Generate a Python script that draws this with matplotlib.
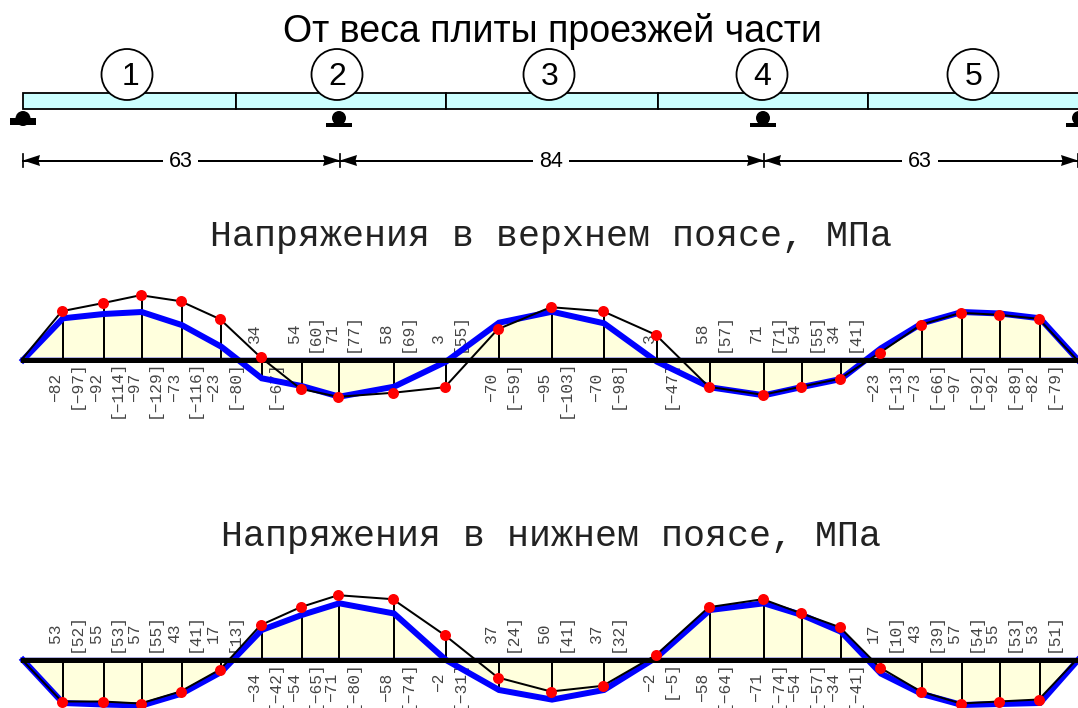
import matplotlib
matplotlib.use("Agg")
import matplotlib.pyplot as plt
from matplotlib.patches import Rectangle, Circle, Polygon

W, H = 1078, 708

# bridge layout
spans = [63, 84, 63]
span_x = [23, 340, 764, 1078]
beam_div = [23, 236, 446, 658, 868, 1090]
circle_x = [127, 337, 549, 762, 973]
support_x = [23, 339, 763, 1079]

# sections along the beam
st = [23, 63, 103.7, 141.7, 181.7, 221.3, 261.7, 301.7, 339.3, 394, 446, 499, 552, 604,
      657, 710, 764, 802, 841, 881, 922, 962, 1000, 1040, 1078]

# top chord: ordinates on the drawing
top_black = [0, 48.3, 56.3, 64.3, 58.3, 40.3, 2.3, -29.3, -37.3, -33.3, -27.7, 30.3, 52.3, 48.3,
             24.7, -27.3, -35.3, -27.3, -19.3, 6.7, 34.7, 46.7, 44.7, 40.7, 0]
top_blue = [0, 41.7, 46, 48, 35, 13.3, -18.3, -26, -36.7, -26.7, -1.7, 37.3, 48.3, 36.7,
            -1.7, -27.3, -35.3, -27, -19, 11.7, 36.7, 48, 46.5, 41.7, 0]
top_val = ["−82", "−92", "−97", "−73", "−23", "34", "54", "71", "58", "3", "−70", "−95", "−70",
           "3", "58", "71", "54", "34", "−23", "−73", "−97", "−92", "−82"]
top_br = ["−97", "−114", "−129", "−116", "−80", "−67", "60", "77", "69", "55", "−59", "−103", "−98",
          "−47", "57", "71", "55", "41", "−13", "−66", "−92", "−89", "−79"]

# bottom chord
bot_black = [0, -42, -42, -44, -32, -10, 34.3, 52.3, 64.3, 60.3, 24.3, -18, -32, -26.3,
             4.3, 52.3, 60.3, 46.3, 32.3, -8, -32, -44, -42, -40, 0]
bot_blue = [0, -43, -44.5, -45.5, -33.6, -12, 30, 45, 56.7, 46.5, 0, -30, -39.6, -30,
            3, 50, 56.7, 45, 28.3, -13.6, -34, -45, -44, -43, 0]
bot_val = ["53", "55", "57", "43", "17", "−34", "−54", "−71", "−58", "−2", "37", "50", "37",
           "−2", "−58", "−71", "−54", "−34", "17", "43", "57", "55", "53"]
bot_br = ["52", "53", "55", "41", "13", "−42", "−65", "−80", "−74", "−31", "24", "41", "32",
          "−5", "−64", "−74", "−57", "−41", "10", "39", "54", "53", "51"]

fig = plt.figure(figsize=(W / 100, H / 100), dpi=100)
ax = fig.add_axes([0, 0, 1, 1])
ax.set_xlim(0, W)
ax.set_ylim(H, 0)
ax.axis("off")
px = 0.72  # points per pixel


def diagram(base, black, blue, vals, brs):
    yb = [base - v for v in blue]
    yk = [base - v - 0.5 for v in black]
    st_k = [x - 1.2 for x in st]
    ax.fill_between(st, yb, base, color="#ffffdd", lw=0, zorder=1)
    ax.plot([st[0], st[-1]], [base - 0.5, base - 0.5], color="#b0b0e0", lw=6 * px, zorder=1.5)
    for i in range(1, len(st) - 1):
        ax.plot([st[i], st[i]], [base, yk[i]], color="k", lw=2 * px, zorder=2)
        ax.plot([st[i], st[i]], [base, yb[i]], color="k", lw=2 * px, zorder=2)
        v, b = vals[i - 1], brs[i - 1]
        ax_y = {True: (base + 12.3, "top"), False: (base - 17, "bottom")}[v.startswith("−")]
        ax.text(st[i] - 7.5, ax_y[0], v, rotation=90, ha="center", va=ax_y[1], color="#444444",
                family="Liberation Mono", fontsize=11.7, zorder=1.8)
        ax_y = {True: (base, "top"), False: (base - 8, "bottom")}[b.startswith("−")]
        ax.text(st[i] + 13, ax_y[0], f"[{b}]", rotation=90, ha="center", va=ax_y[1], color="#444444",
                family="Liberation Mono", fontsize=11.7, zorder=1.8)
    ax.plot(st, yb, color="#0000ff", lw=6 * px, zorder=3, solid_joinstyle="miter")
    ax.plot([st[0], st[-1]], [base, base], color="k", lw=5 * px, zorder=3.5)
    ax.plot(st_k, yk, color="k", lw=2 * px, zorder=4)
    ax.plot(st_k[1:-1], yk[1:-1], "o", color="#ff0000", ms=11 * px, mew=0, zorder=5)


# headers
ax.text(552, 31, "От веса плиты проезжей части", ha="center", va="center",
        family="Liberation Sans", fontsize=27)
ax.text(551.5, 236.5, "Напряжения в верхнем поясе, МПа", ha="center", va="center",
        family="Liberation Mono", fontsize=26.4, color="#222222")
ax.text(551, 536.5, "Напряжения в нижнем поясе, МПа", ha="center", va="center",
        family="Liberation Mono", fontsize=26.4, color="#222222")

# beam
for a, b in zip(beam_div[:-1], beam_div[1:]):
    ax.add_patch(Rectangle((a, 92.5), b - a, 16, fc="#ccffff", ec="k", lw=1.8 * px, zorder=2))
for i, x in enumerate(circle_x):
    ax.add_patch(Circle((x, 74.5), 25.5, fc="w", ec="k", lw=1.8 * px, zorder=3))
    ax.text(x + (4 if i == 0 else 0.5), 77, str(i + 1), ha="center", va="center",
            family="Liberation Sans", fontsize=23, zorder=4)

# supports
for i, x in enumerate(support_x):
    if i == 0:
        ax.add_patch(Rectangle((x - 13, 118), 26, 7, fc="k", ec="none", zorder=2))
        ax.add_patch(Circle((x, 118.5), 7.5, fc="k", ec="none", zorder=2))
    else:
        ax.add_patch(Rectangle((x - 13, 123), 26, 3.5, fc="k", ec="none", zorder=2))
        ax.add_patch(Rectangle((x - 5, 118), 10, 6, fc="k", ec="none", zorder=2))
        ax.add_patch(Circle((x, 118), 7, fc="k", ec="none", zorder=2))

# dimensions
dim_y = 160.5
for x0, x1, s in zip(span_x[:-1], span_x[1:], spans):
    ax.plot([x0, x1], [dim_y, dim_y], color="k", lw=2 * px, zorder=1)
    ax.add_patch(Polygon([(x0, dim_y), (x0 + 17, dim_y - 5.5), (x0 + 15.5, dim_y), (x0 + 17, dim_y + 5.5)],
                         fc="k", ec="none", zorder=2))
    ax.add_patch(Polygon([(x1, dim_y), (x1 - 17, dim_y - 5.5), (x1 - 15.5, dim_y), (x1 - 17, dim_y + 5.5)],
                         fc="k", ec="none", zorder=2))
    ax.text((x0 + x1) / 2 - 1, dim_y + 1, str(s), ha="center", va="center", family="Liberation Sans",
            fontsize=15.5, zorder=3, bbox=dict(fc="w", ec="none", pad=4))
for x in span_x:
    ax.plot([x, x], [154, 167], color="k", lw=1.7 * px, zorder=2)

diagram(360, top_black, top_blue, top_val, top_br)
diagram(660, bot_black, bot_blue, bot_val, bot_br)

fig.savefig("out.png", dpi=100)
